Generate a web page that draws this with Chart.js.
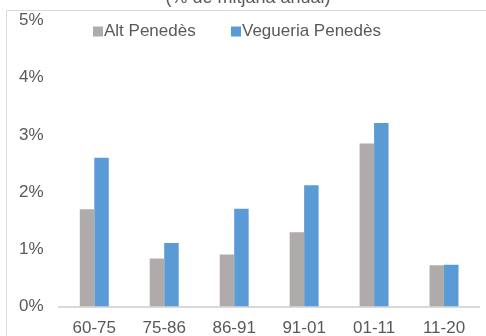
<!DOCTYPE html>
<html>
<head>
<meta charset="utf-8">
<script src="https://cdn.jsdelivr.net/npm/chart.js@4/dist/chart.umd.min.js"></script>
<style>
  html, body { margin: 0; padding: 0; background: #fff; }
  #wrap { position: relative; width: 486px; height: 336px; overflow: hidden; }
</style>
</head>
<body>
<div id="wrap"><canvas id="chart" width="486" height="336"></canvas></div>
<script>
const periods = ['60-75', '75-86', '86-91', '91-01', '01-11', '11-20'];
const altPenedes = [1.70, 0.84, 0.91, 1.30, 2.85, 0.72];
const vegueriaPenedes = [2.60, 1.11, 1.71, 2.12, 3.21, 0.73];
const yTicks = [0, 1, 2, 3, 4, 5];
const titleText = '(% de mitjana anual)';

const FONT = "'Liberation Sans', Arial, sans-serif";
const TXT = '#595959';

// frame, title and legend drawn like the excel chart (legend sits inside the plot)
const excelBits = {
  id: 'excelBits',
  afterDraw(chart) {
    const ctx = chart.ctx;
    ctx.save();
    // chart frame
    ctx.strokeStyle = '#D9D9D9';
    ctx.lineWidth = 1;
    ctx.beginPath();
    ctx.moveTo(6.5, 336);
    ctx.lineTo(6.5, 10.5);
    ctx.lineTo(486, 10.5);
    ctx.stroke();
    // title (cut at the top)
    ctx.fillStyle = TXT;
    ctx.font = '18px ' + FONT;
    ctx.textAlign = 'center';
    ctx.textBaseline = 'alphabetic';
    ctx.fillText(titleText, 248, 3);
    // legend
    ctx.font = '17px ' + FONT;
    ctx.textAlign = 'left';
    ctx.textBaseline = 'middle';
    const starts = [93, 231];
    chart.data.datasets.forEach((ds, i) => {
      const x = starts[i];
      ctx.fillStyle = ds.backgroundColor;
      ctx.fillRect(x, 26.5, 10, 10);
      ctx.fillStyle = TXT;
      ctx.fillText(ds.label, x + 11, 31.5);
    });
    ctx.restore();
  }
};

new Chart(document.getElementById('chart').getContext('2d'), {
  type: 'bar',
  data: {
    labels: periods,
    datasets: [
      { label: 'Alt Penedès', data: altPenedes, backgroundColor: '#AFABAB', borderWidth: 0 },
      { label: 'Vegueria Penedès', data: vegueriaPenedes, backgroundColor: '#5B9BD5', borderWidth: 0 }
    ]
  },
  options: {
    responsive: false,
    animation: false,
    layout: { padding: { left: 19, right: 7, top: 20.5, bottom: -14.9 } },
    datasets: { bar: { barPercentage: 1, categoryPercentage: 0.414 } },
    plugins: {
      legend: { display: false },
      title: { display: false },
      tooltip: { enabled: false }
    },
    scales: {
      x: {
        grid: { display: false, drawTicks: false },
        border: { display: true, color: '#D9D9D9', width: 2 },
        ticks: { color: TXT, font: { family: FONT, size: 17 }, padding: 12, maxRotation: 0 }
      },
      y: {
        min: 0,
        max: 5,
        grid: { display: false, drawTicks: false },
        border: { display: false },
        afterBuildTicks: (axis) => { axis.ticks = yTicks.map(v => ({ value: v })); },
        afterFit: (axis) => { axis.width = 40.3; },   // labels at the far left, 16px gap to the plot
        ticks: {
          color: TXT,
          font: { family: FONT, size: 17 },
          padding: 0,
          crossAlign: 'far',
          callback: (v) => v + '%'
        }
      }
    }
  },
  plugins: [excelBits]
});
</script>
</body>
</html>
